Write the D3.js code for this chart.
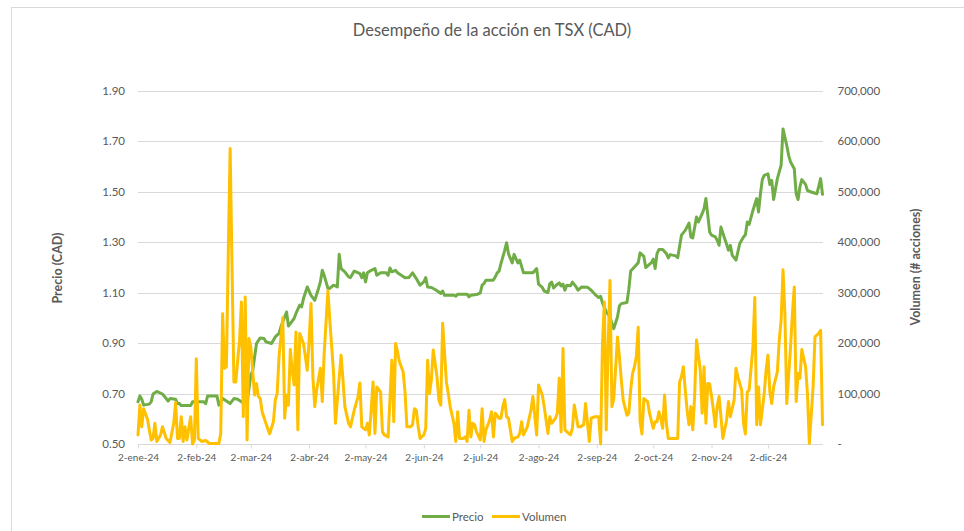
<!doctype html>
<html>
<head>
<meta charset="utf-8">
<script src="https://cdn.jsdelivr.net/npm/d3@7"></script>
<style>
  body { margin: 0; background: #fff; }
  svg text { font-family: Lato, "Open Sans", sans-serif; fill: #595959; }
</style>
</head>
<body>
<svg width="964" height="531"></svg>
<script>

// Precio de cierre (CAD)
let precioFechas = [
  "2024-01-02","2024-01-03","2024-01-04","2024-01-05","2024-01-08","2024-01-09","2024-01-10","2024-01-12","2024-01-15","2024-01-17","2024-01-18","2024-01-19","2024-01-22","2024-01-23","2024-01-24","2024-01-25","2024-01-30","2024-01-31",
  "2024-02-06","2024-02-07","2024-02-08","2024-02-13","2024-02-14","2024-02-16","2024-02-20","2024-02-22","2024-02-24","2024-02-26","2024-02-29",
  "2024-03-02","2024-03-03","2024-03-05","2024-03-07","2024-03-09","2024-03-10","2024-03-13","2024-03-15","2024-03-17","2024-03-18","2024-03-21","2024-03-22","2024-03-25","2024-03-26","2024-03-28","2024-03-29","2024-03-30",
  "2024-04-01","2024-04-03","2024-04-05","2024-04-07","2024-04-08","2024-04-09","2024-04-10","2024-04-12","2024-04-13","2024-04-15","2024-04-17","2024-04-18","2024-04-19","2024-04-21","2024-04-23","2024-04-24","2024-04-26","2024-04-27","2024-04-29","2024-04-30",
  "2024-05-01","2024-05-02","2024-05-03","2024-05-05","2024-05-07","2024-05-08","2024-05-10","2024-05-13","2024-05-14","2024-05-15","2024-05-16","2024-05-18","2024-05-19","2024-05-21","2024-05-23","2024-05-25","2024-05-27","2024-05-29","2024-05-31",
  "2024-06-02","2024-06-03","2024-06-04","2024-06-06","2024-06-08","2024-06-10","2024-06-11","2024-06-12","2024-06-13","2024-06-18","2024-06-19","2024-06-20","2024-06-25","2024-06-26","2024-06-27","2024-06-30",
  "2024-07-02","2024-07-03","2024-07-04","2024-07-05","2024-07-09","2024-07-10","2024-07-11","2024-07-12","2024-07-13","2024-07-15","2024-07-16","2024-07-17","2024-07-19","2024-07-20","2024-07-21","2024-07-22","2024-07-23","2024-07-25","2024-07-30",
  "2024-08-01","2024-08-02","2024-08-04","2024-08-05","2024-08-07","2024-08-08","2024-08-09","2024-08-10","2024-08-12","2024-08-13","2024-08-14","2024-08-15","2024-08-16","2024-08-17","2024-08-19","2024-08-20","2024-08-22","2024-08-23","2024-08-25","2024-08-28","2024-08-30",
  "2024-09-01","2024-09-03","2024-09-04","2024-09-05","2024-09-07","2024-09-09","2024-09-10","2024-09-11","2024-09-13","2024-09-14","2024-09-15","2024-09-18","2024-09-19","2024-09-20","2024-09-22","2024-09-24","2024-09-25","2024-09-27","2024-09-28","2024-09-29",
  "2024-10-01","2024-10-02","2024-10-03","2024-10-04","2024-10-05","2024-10-07","2024-10-09","2024-10-10","2024-10-11","2024-10-14","2024-10-15","2024-10-17","2024-10-19","2024-10-21","2024-10-22","2024-10-23","2024-10-25","2024-10-26","2024-10-28","2024-10-29","2024-10-30",
  "2024-11-01","2024-11-02","2024-11-04","2024-11-05","2024-11-06","2024-11-07","2024-11-09","2024-11-10","2024-11-11","2024-11-12","2024-11-13","2024-11-15","2024-11-16","2024-11-17","2024-11-19","2024-11-20","2024-11-21","2024-11-22","2024-11-24","2024-11-26","2024-11-27","2024-11-28","2024-11-29","2024-11-30",
  "2024-12-02","2024-12-03","2024-12-04","2024-12-05","2024-12-07","2024-12-08","2024-12-09","2024-12-10","2024-12-12","2024-12-13","2024-12-14","2024-12-16","2024-12-17","2024-12-18","2024-12-19","2024-12-20","2024-12-22","2024-12-23","2024-12-25","2024-12-28","2024-12-29","2024-12-30","2024-12-31"
]
let precioValores = [
  .667,.69,.677,.654,.658,.667,.698,.708,.698,.68,.67,.68,.677,.66,.66,.652,.652,.667,
  .667,.66,.69,.69,.654,.68,.66,.68,.677,.667,.665,
  .773,.79,.898,.92,.918,.905,.898,.924,.938,.964,1.023,.967,.997,1.017,1.05,1.043,1.076,
  1.122,1.089,1.069,1.116,1.142,1.188,1.168,1.116,1.116,1.129,1.122,1.251,1.195,1.182,1.162,1.159,1.185,1.182,1.175,1.159,
  1.178,1.142,1.178,1.188,1.195,1.168,1.178,1.178,1.168,1.197,1.182,1.188,1.178,1.168,1.158,1.159,1.178,1.155,1.129,
  1.142,1.159,1.122,1.12,1.112,1.102,1.096,1.106,1.089,1.089,1.085,1.093,1.093,1.083,1.089,1.092,
  1.098,1.129,1.135,1.149,1.149,1.162,1.178,1.185,1.214,1.267,1.297,1.254,1.217,1.251,1.234,1.217,1.228,1.178,1.178,
  1.195,1.133,1.12,1.106,1.1,1.135,1.141,1.118,1.133,1.138,1.126,1.133,1.109,1.129,1.127,1.141,1.122,1.109,1.122,1.121,1.109,
  1.093,1.08,1.085,1.059,1.023,1.004,.977,.957,1.004,1.047,1.056,1.06,1.112,1.185,1.201,1.218,1.257,1.243,1.199,1.205,
  1.218,1.232,1.195,1.254,1.27,1.27,1.254,1.237,1.25,1.245,1.238,1.327,1.346,1.375,1.32,1.316,1.399,1.379,1.412,1.432,1.472,
  1.34,1.327,1.32,1.307,1.287,1.359,1.313,1.291,1.267,1.287,1.247,1.228,1.261,1.294,1.32,1.329,1.379,1.37,1.425,1.472,1.419,1.491,1.547,1.564,
  1.57,1.528,1.544,1.468,1.551,1.578,1.604,1.748,1.682,1.643,1.617,1.59,1.491,1.468,1.518,1.547,1.528,1.504,1.498,1.491,1.52,1.551,1.489
]

// Volumen (# acciones)
let volumenFechas = [
  "2024-01-02","2024-01-03","2024-01-04","2024-01-05","2024-01-07","2024-01-08","2024-01-09","2024-01-10","2024-01-11","2024-01-12","2024-01-14","2024-01-15","2024-01-17","2024-01-19","2024-01-21","2024-01-22","2024-01-23","2024-01-24","2024-01-25","2024-01-26","2024-01-27","2024-01-28","2024-01-30","2024-01-31",
  "2024-02-01","2024-02-02","2024-02-03","2024-02-05","2024-02-07","2024-02-09","2024-02-14","2024-02-15","2024-02-16","2024-02-17","2024-02-18","2024-02-19","2024-02-20","2024-02-21","2024-02-22","2024-02-23","2024-02-25","2024-02-26","2024-02-27","2024-02-28","2024-02-29",
  "2024-03-01","2024-03-02","2024-03-04","2024-03-05","2024-03-06","2024-03-07","2024-03-08","2024-03-10","2024-03-12","2024-03-14","2024-03-15","2024-03-16","2024-03-17","2024-03-19","2024-03-20","2024-03-21","2024-03-22","2024-03-23","2024-03-24","2024-03-25","2024-03-26","2024-03-27","2024-03-28","2024-03-30","2024-03-31",
  "2024-04-01","2024-04-02","2024-04-03","2024-04-04","2024-04-05","2024-04-06","2024-04-08","2024-04-09","2024-04-10","2024-04-12","2024-04-13","2024-04-15","2024-04-16","2024-04-17","2024-04-19","2024-04-20","2024-04-21","2024-04-23","2024-04-24","2024-04-25","2024-04-26","2024-04-28","2024-04-29","2024-04-30",
  "2024-05-02","2024-05-03","2024-05-04","2024-05-05","2024-05-06","2024-05-07","2024-05-08","2024-05-10","2024-05-11","2024-05-12","2024-05-14","2024-05-16","2024-05-17","2024-05-18","2024-05-19","2024-05-20","2024-05-22","2024-05-23","2024-05-24","2024-05-26","2024-05-27","2024-05-28","2024-05-29","2024-05-30","2024-05-31",
  "2024-06-02","2024-06-03","2024-06-04","2024-06-05","2024-06-06","2024-06-07","2024-06-09","2024-06-10","2024-06-11","2024-06-12","2024-06-14","2024-06-15","2024-06-16","2024-06-18","2024-06-19","2024-06-20","2024-06-21","2024-06-23","2024-06-24","2024-06-25","2024-06-26","2024-06-27","2024-06-28","2024-06-29","2024-06-30",
  "2024-07-02","2024-07-03","2024-07-04","2024-07-05","2024-07-07","2024-07-08","2024-07-09","2024-07-10","2024-07-12","2024-07-13","2024-07-14","2024-07-15","2024-07-16","2024-07-17","2024-07-19","2024-07-20","2024-07-22","2024-07-23","2024-07-24","2024-07-25","2024-07-27","2024-07-29","2024-07-30",
  "2024-08-01","2024-08-02","2024-08-04","2024-08-05","2024-08-07","2024-08-08","2024-08-09","2024-08-11","2024-08-12","2024-08-13","2024-08-14","2024-08-15","2024-08-16","2024-08-18","2024-08-19","2024-08-20","2024-08-21","2024-08-23","2024-08-24","2024-08-26","2024-08-27","2024-08-29","2024-08-30",
  "2024-09-01","2024-09-03","2024-09-04","2024-09-05","2024-09-06","2024-09-07","2024-09-08","2024-09-09","2024-09-10","2024-09-11","2024-09-13","2024-09-14","2024-09-15","2024-09-16","2024-09-18","2024-09-19","2024-09-20","2024-09-21","2024-09-22","2024-09-23","2024-09-24","2024-09-25","2024-09-26","2024-09-27","2024-09-29","2024-09-30",
  "2024-10-02","2024-10-03","2024-10-04","2024-10-05","2024-10-06","2024-10-07","2024-10-08","2024-10-09","2024-10-10","2024-10-12","2024-10-14","2024-10-15","2024-10-16","2024-10-17","2024-10-18","2024-10-19","2024-10-20","2024-10-21","2024-10-22","2024-10-23","2024-10-24","2024-10-25","2024-10-27","2024-10-28","2024-10-29","2024-10-30","2024-10-31",
  "2024-11-01","2024-11-02","2024-11-03","2024-11-04","2024-11-05","2024-11-06","2024-11-07","2024-11-08","2024-11-10","2024-11-11","2024-11-12","2024-11-14","2024-11-15","2024-11-16","2024-11-18","2024-11-19","2024-11-20","2024-11-21","2024-11-22","2024-11-24","2024-11-25","2024-11-26","2024-11-27","2024-11-28","2024-11-30",
  "2024-12-01","2024-12-02","2024-12-03","2024-12-04","2024-12-05","2024-12-07","2024-12-08","2024-12-09","2024-12-10","2024-12-11","2024-12-12","2024-12-14","2024-12-15","2024-12-16","2024-12-17","2024-12-18","2024-12-19","2024-12-20","2024-12-22","2024-12-23","2024-12-24","2024-12-26","2024-12-27","2024-12-29","2024-12-30","2024-12-31"
]
let volumenValores = [
  18000,77000,34000,70000,50000,28000,8000,11000,41000,5000,18000,34000,11000,3000,41000,82000,11000,11000,54000,5000,34000,8000,54000,0,
  8000,169000,11000,5000,7000,1000,1000,21000,258000,150000,153000,377000,585000,351000,123000,123000,206000,281000,54000,291000,8000,
  209000,192000,97000,120000,94000,90000,64000,41000,20000,44000,87000,100000,173000,250000,51000,97000,77000,187000,146000,117000,222000,28000,219000,199000,173000,
  146000,206000,278000,133000,74000,107000,150000,84000,179000,304000,245000,140000,41000,87000,176000,127000,74000,41000,34000,51000,67000,94000,121000,34000,
  28000,41000,18000,67000,123000,21000,113000,103000,24000,18000,14000,166000,44000,199000,183000,163000,143000,103000,34000,34000,38000,70000,67000,34000,11000,
  18000,31000,166000,100000,127000,186000,133000,87000,77000,239000,123000,100000,74000,41000,5000,64000,11000,11000,14000,5000,67000,14000,41000,38000,24000,
  8000,70000,5000,28000,47000,64000,14000,61000,51000,51000,74000,88000,54000,51000,5000,11000,14000,21000,44000,18000,34000,67000,94000,
  18000,117000,97000,74000,21000,54000,41000,51000,61000,130000,24000,189000,28000,21000,18000,31000,77000,34000,34000,38000,80000,5000,51000,
  54000,54000,0,199000,281000,28000,192000,324000,74000,90000,212000,173000,127000,87000,57000,61000,107000,140000,153000,173000,231000,44000,20000,90000,84000,61000,
  31000,44000,44000,64000,51000,31000,97000,40000,11000,11000,11000,11000,123000,133000,153000,107000,67000,38000,74000,28000,94000,206000,146000,61000,153000,41000,120000,
  119000,94000,67000,34000,74000,94000,54000,11000,47000,84000,54000,87000,150000,133000,107000,41000,20000,103000,107000,192000,290000,38000,113000,38000,100000,
  146000,176000,103000,80000,113000,143000,206000,245000,345000,258000,80000,192000,258000,311000,84000,140000,130000,187000,153000,100000,1000,113000,212000,219000,225000,38000
]

let precioTicks = [0.5, 0.7, 0.9, 1.1, 1.3, 1.5, 1.7, 1.9]
let volumenTicks = [0, 100000, 200000, 300000, 400000, 500000, 600000, 700000]
let mesesTicks = ["2024-01-02","2024-02-02","2024-03-02","2024-04-02","2024-05-02","2024-06-02","2024-07-02","2024-08-02","2024-09-02","2024-10-02","2024-11-02","2024-12-02"]
let mesesNombres = ["ene","feb","mar","abr","may","jun","jul","ago","sep","oct","nov","dic"]

let svg = d3.select("svg")
let parse = d3.timeParse("%Y-%m-%d")

let plotLeft = 138, plotRight = 822.5, plotTop = 90.5, plotBottom = 444

let x = d3.scaleTime()
          .domain([parse("2024-01-02"), parse("2024-12-31")])
          .range([plotLeft, plotRight])
let yP = d3.scaleLinear().domain([0.5, 1.9]).range([plotBottom, plotTop])
let yV = d3.scaleLinear().domain([0, 700000]).range([plotBottom, plotTop])

// marco del gráfico
svg.append("rect")
    .attr("x", 11.5).attr("y", 7.5)
    .attr("width", 980).attr("height", 560)
    .attr("fill", "none").attr("stroke", "#d9d9d9")

// cuadrícula
svg.append("g")
  .selectAll("line")
  .data(precioTicks.slice(1))
  .enter().append("line")
    .attr("x1", plotLeft).attr("x2", plotRight + 0.5)
    .attr("y1", d => Math.round(yP(d)) + 0.5)
    .attr("y2", d => Math.round(yP(d)) + 0.5)
    .attr("stroke", "#d9d9d9")

// eje izquierdo
let axisL = svg.append("g")
    .attr("transform", `translate(${plotLeft},0)`)
    .call(d3.axisLeft(yP).tickValues(precioTicks).tickFormat(d3.format(".2f")).tickSize(0).tickPadding(13))
axisL.select(".domain").remove()
axisL.selectAll("text").style("font-size", "11.5px")

// eje derecho
let axisR = svg.append("g")
    .attr("transform", `translate(${plotRight},0)`)
    .call(d3.axisRight(yV).tickValues(volumenTicks)
            .tickFormat(d => d === 0 ? "-" : d3.format(",")(d))
            .tickSize(0).tickPadding(15))
axisR.select(".domain").remove()
axisR.selectAll("text").style("font-size", "11.5px")

// eje x
let axisB = svg.append("g")
    .attr("transform", `translate(0,${Math.round(plotBottom) + 0.5})`)
    .call(d3.axisBottom(x).tickValues(mesesTicks.map(parse))
            .tickFormat(d => d.getDate() + "-" + mesesNombres[d.getMonth()] + "-24")
            .tickSizeOuter(0).tickSize(4).tickPadding(5))
axisB.select(".domain").attr("stroke", "#d9d9d9").attr("d", `M${plotLeft},0H${plotRight + 0.5}`)
axisB.selectAll(".tick line").attr("stroke", "#d9d9d9")
axisB.selectAll("text").style("font-size", "10px")

// series
let precio = precioFechas.map((f, i) => ({ fecha: parse(f), valor: precioValores[i] }))
let volumen = volumenFechas.map((f, i) => ({ fecha: parse(f), valor: volumenValores[i] }))

svg.append("path")
    .datum(precio)
    .attr("fill", "none")
    .attr("stroke", "#70AD47")
    .attr("stroke-width", 3)
    .attr("stroke-linejoin", "round")
    .attr("stroke-linecap", "round")
    .attr("d", d3.line().x(d => x(d.fecha)).y(d => yP(d.valor)))

svg.append("path")
    .datum(volumen)
    .attr("fill", "none")
    .attr("stroke", "#FFC000")
    .attr("stroke-width", 3)
    .attr("stroke-linejoin", "round")
    .attr("stroke-linecap", "round")
    .attr("d", d3.line().x(d => x(d.fecha)).y(d => yV(d.valor)))

// títulos
svg.append("text")
    .attr("x", 492).attr("y", 36)
    .attr("text-anchor", "middle")
    .style("font-size", "16.5px")
    .text("Desempeño de la acción en TSX (CAD)")

svg.append("text")
    .attr("transform", "translate(62,268) rotate(-90)")
    .attr("text-anchor", "middle")
    .style("font-size", "12.5px").style("font-weight", "bold")
    .text("Precio (CAD)")

svg.append("text")
    .attr("transform", "translate(920,267) rotate(-90)")
    .attr("text-anchor", "middle")
    .style("font-size", "12.5px").style("font-weight", "bold")
    .text("Volumen (# acciones)")

// leyenda
let leyenda = [{ nombre: "Precio", color: "#70AD47", x: 422 }, { nombre: "Volumen", color: "#FFC000", x: 492 }]
let lg = svg.append("g").selectAll("g").data(leyenda).enter().append("g")
lg.append("line")
    .attr("x1", d => d.x).attr("x2", d => d.x + 28)
    .attr("y1", 516.5).attr("y2", 516.5)
    .attr("stroke", d => d.color).attr("stroke-width", 3)
lg.append("text")
    .attr("x", d => d.x + 30).attr("y", 520.5)
    .style("font-size", "11.5px")
    .text(d => d.nombre)

</script>
</body>
</html>
